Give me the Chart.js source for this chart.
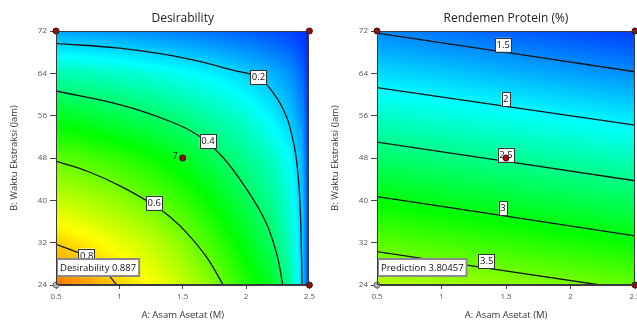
<!DOCTYPE html>
<html><head><meta charset="utf-8">
<script src="https://cdn.jsdelivr.net/npm/chart.js@4.4.1/dist/chart.umd.min.js"></script>
<style>
html,body{margin:0;padding:0;background:#fff;overflow:hidden;width:637px;height:323px;position:relative}
.wrap{position:absolute;top:0;height:323px}
canvas{display:block}
</style></head><body>
<div class="wrap" style="left:0;width:318px"><canvas id="c1" width="318" height="323"></canvas></div>
<div class="wrap" style="left:321px;width:340px"><canvas id="c2" width="340" height="323"></canvas></div>
<script>
// ---------- data ----------
const titles = ['Desirability', 'Rendemen Protein (%)'];
const xTitle = 'A: Asam Asetat (M)';
const yTitle = 'B: Waktu Ekstraksi (Jam)';
const xRange = [0.5, 2.5];
const yRange = [24, 72];
const yStep = 8;
const xStep = 0.5;

// Desirability surface sampled on a grid (columns = A, rows = B)
const desGridX = [0.5, 0.75, 1.0, 1.25, 1.5, 1.75, 2.0, 2.2, 2.35, 2.45, 2.5];
const desGridY = [24, 32, 40, 48, 56, 64, 72];
const desirabilityGrid = [
  [0.887, 0.845, 0.797, 0.750, 0.695, 0.625, 0.530, 0.470, 0.340, 0.190, 0.00],
  [0.797, 0.765, 0.730, 0.690, 0.630, 0.555, 0.480, 0.405, 0.310, 0.185, 0.00],
  [0.694, 0.670, 0.640, 0.598, 0.550, 0.490, 0.420, 0.360, 0.280, 0.180, 0.00],
  [0.590, 0.570, 0.545, 0.510, 0.470, 0.415, 0.360, 0.310, 0.250, 0.160, 0.00],
  [0.470, 0.450, 0.425, 0.400, 0.370, 0.330, 0.290, 0.235, 0.185, 0.120, 0.00],
  [0.326, 0.315, 0.300, 0.280, 0.258, 0.232, 0.198, 0.165, 0.130, 0.080, 0.00],
  [0.148, 0.140, 0.130, 0.118, 0.103, 0.088, 0.070, 0.055, 0.040, 0.020, 0.00]
];
// Rendemen Protein surface
const protGridX = [0.5, 1.0, 1.5, 2.0, 2.5];
const protGridY = [24, 32, 40, 48, 56, 64, 72];
const proteinGrid = [
  [3.80, 3.71, 3.63, 3.54, 3.45],
  [3.41, 3.32, 3.24, 3.15, 3.06],
  [3.03, 2.94, 2.85, 2.76, 2.67],
  [2.64, 2.55, 2.46, 2.38, 2.29],
  [2.25, 2.16, 2.08, 1.99, 1.90],
  [1.86, 1.78, 1.69, 1.60, 1.51],
  [1.48, 1.39, 1.30, 1.21, 1.13]
];

// Contour lines [A, B]
const des02 = [[0.5,69.67],[1.017,68.7],[1.534,66.8],[1.895,64.6],[2.097,63.2],[2.23,59.8],[2.32,55.8],[2.36,52.5],[2.39,49.0],[2.41,45.0],[2.425,40.0],[2.435,33.0],[2.442,24]];
const des04 = [[0.5,60.66],[1.017,58.0],[1.404,54.9],[1.62,52.3],[1.818,48.1],[1.999,42.3],[2.154,36.0],[2.244,29.7],[2.29,24]];
const des06 = [[0.5,47.4],[0.758,45.4],[1.017,42.6],[1.275,39.06],[1.404,36.8],[1.534,33.8],[1.689,29.25],[1.82,24]];
const des08 = [[0.5,31.7],[0.733,29.5],[0.86,27.3],[0.98,24]];
const prot15 = [[0.5,71.6],[2.5,64.3]];
const prot20 = [[0.5,61.3],[2.5,54.2]];
const prot25 = [[0.5,51.0],[2.5,43.7]];
const prot30 = [[0.5,40.7],[2.5,33.3]];
const prot35 = [[0.5,30.3],[2.23,24]];

// contour labels
const desLabelText = ['0.2', '0.4', '0.6', '0.8'];
const desLabelX = [2.098, 1.70, 1.275, 0.742];
const desLabelY = [63.27, 51.18, 39.53, 29.57];
const protLabelText = ['1.5', '2', '2.5', '3', '3.5'];
const protLabelX = [1.479, 1.498, 1.50, 1.477, 1.35];
const protLabelY = [69.4, 59.15, 48.6, 38.5, 28.5];

// design points
const designPoints = [[1.5,48],[0.5,72],[2.5,72],[2.5,24]];
const flagPoint = [0.5, 24];
const centerReplicates = '7';
const desFlag = 'Desirability 0.887';
const protFlag = 'Prediction 3.80457';

// ---------- rendering ----------
const FONT = "'Open Sans','Noto Sans',sans-serif";
const jet = [[0,30,255],[0,255,255],[0,255,0],[255,255,0],[255,0,0]];
function colorFor(v, lo, hi){
  let t = (v - lo) / (hi - lo); t = Math.max(0, Math.min(1, t));
  const s = t * 4; const i = Math.min(3, Math.floor(s)); const f = s - i;
  const a = jet[i], b = jet[i+1];
  return [a[0]+(b[0]-a[0])*f, a[1]+(b[1]-a[1])*f, a[2]+(b[2]-a[2])*f];
}
function findIdx(arr, v){
  if (v <= arr[0]) return [0, 0];
  for (let i = 0; i < arr.length - 1; i++) {
    if (v <= arr[i+1]) return [i, (v - arr[i]) / (arr[i+1] - arr[i])];
  }
  return [arr.length - 2, 1];
}
function bilinear(xs, ys, g, x, y){
  const [i, fx] = findIdx(xs, x); const [j, fy] = findIdx(ys, y);
  const v00 = g[j][i], v10 = g[j][i+1], v01 = g[j+1][i], v11 = g[j+1][i+1];
  return (v00*(1-fx) + v10*fx)*(1-fy) + (v01*(1-fx) + v11*fx)*fy;
}
function makeHeatmap(xs, ys, grid, lo, hi){
  return {
    id: 'heatmap',
    beforeDatasetsDraw(chart){
      const {ctx, chartArea: a, scales} = chart;
      const w = Math.round(a.right - a.left), h = Math.round(a.bottom - a.top);
      const off = document.createElement('canvas'); off.width = w; off.height = h;
      const octx = off.getContext('2d'); const img = octx.createImageData(w, h);
      for (let j = 0; j < h; j++) {
        const yv = scales.y.getValueForPixel(a.top + j + 0.5);
        for (let i = 0; i < w; i++) {
          const xv = scales.x.getValueForPixel(a.left + i + 0.5);
          const c = colorFor(bilinear(xs, ys, grid, xv, yv), lo, hi);
          const k = (j * w + i) * 4;
          img.data[k] = c[0]; img.data[k+1] = c[1]; img.data[k+2] = c[2]; img.data[k+3] = 255;
        }
      }
      octx.putImageData(img, 0, 0);
      ctx.drawImage(off, a.left, a.top);
    }
  };
}
function makeAnnotations(title, labText, labX, labY, flagText, showReps){
  return {
    id: 'annot',
    beforeDatasetDraw(chart, args){
      if (args.index !== 0) return;
      const {ctx, scales: {x, y}} = chart;
      ctx.save();
      ctx.font = "9.5px " + FONT; ctx.textAlign = 'center'; ctx.textBaseline = 'middle';
      for (let i = 0; i < labText.length; i++) {
        const px = x.getPixelForValue(labX[i]), py = y.getPixelForValue(labY[i]);
        const w = ctx.measureText(labText[i]).width + 3, h = 14;
        ctx.fillStyle = '#fff'; ctx.fillRect(px - w/2, py - h/2, w, h);
        ctx.strokeStyle = '#333'; ctx.lineWidth = 1;
        ctx.strokeRect(Math.round(px - w/2) + 0.5, Math.round(py - h/2) + 0.5, Math.round(w), h);
        ctx.fillStyle = '#111'; ctx.fillText(labText[i], px, py + 0.5);
      }
      const fx = x.getPixelForValue(flagPoint[0]), fy = y.getPixelForValue(flagPoint[1]);
      ctx.font = "9.5px " + FONT; ctx.textAlign = 'left';
      const fw = ctx.measureText(flagText).width + 6, fh = 17;
      const bx = Math.round(fx) + 1, by = Math.round(fy) - 9 - fh;
      ctx.fillStyle = '#fff'; ctx.fillRect(bx, by, fw, fh);
      ctx.strokeStyle = '#8a8a8a'; ctx.lineWidth = 2; ctx.strokeRect(bx, by, fw, fh);
      ctx.fillStyle = '#111'; ctx.fillText(flagText, bx + 3, by + fh/2 + 0.5);
      if (showReps) {
        const cx = x.getPixelForValue(designPoints[0][0]), cy = y.getPixelForValue(designPoints[0][1]);
        ctx.font = "9px " + FONT; ctx.textAlign = 'right'; ctx.fillStyle = '#222';
        ctx.fillText(centerReplicates, cx - 5, cy - 2);
      }
      ctx.restore();
    },
    afterDraw(chart){
      const {ctx, chartArea: a} = chart;
      ctx.save();
      ctx.strokeStyle = '#3a3a3a'; ctx.lineWidth = 1;
      ctx.strokeRect(Math.round(a.left) + 0.5, Math.round(a.top) + 0.5, Math.round(a.right - a.left) - 1, Math.round(a.bottom - a.top) - 1);
      ctx.font = "12px " + FONT; ctx.fillStyle = '#222'; ctx.textAlign = 'center'; ctx.textBaseline = 'middle';
      ctx.fillText(title, (a.left + a.right) / 2, 19);
      ctx.restore();
    }
  };
}
function toPts(arr){ return arr.map(p => ({x: p[0], y: p[1]})); }
function lineDs(arr){
  return { data: toPts(arr), showLine: true, pointRadius: 0, borderColor: '#151515', borderWidth: 1.3, tension: 0.4, fill: false };
}
function buildChart(canvasId, padRight, contours, heat, annot){
  const datasets = [
    { data: toPts(designPoints), pointRadius: 3, pointBackgroundColor: '#9b0f0f', pointBorderColor: '#4a0000', pointBorderWidth: 1, clip: false },
    { data: toPts([flagPoint]), pointRadius: 3, pointBackgroundColor: '#b5b5b5', pointBorderColor: '#666', pointBorderWidth: 1, clip: false }
  ].concat(contours.map(lineDs));
  return new Chart(document.getElementById(canvasId), {
    type: 'scatter',
    data: { datasets },
    options: {
      responsive: false, animation: false,
      layout: { padding: { left: 0, top: 31, right: padRight, bottom: 0 } },
      plugins: { legend: { display: false }, tooltip: { enabled: false }, title: { display: false } },
      scales: {
        x: {
          type: 'linear', min: xRange[0], max: xRange[1],
          ticks: { stepSize: xStep, color: '#555', font: { size: 8, family: FONT }, padding: 3, maxRotation: 0,
                   callback: (v) => String(Math.round(v * 100) / 100) },
          grid: { drawOnChartArea: false, drawTicks: true, tickLength: 4, tickColor: '#444' },
          border: { display: true, color: '#3a3a3a' },
          title: { display: true, text: xTitle, color: '#333', font: { size: 9.5, family: FONT }, padding: { top: 0, bottom: 2 } },
          afterFit(s){ s.height = 38; }
        },
        y: {
          type: 'linear', min: yRange[0], max: yRange[1],
          ticks: { stepSize: yStep, color: '#555', font: { size: 8, family: FONT }, padding: 3 },
          grid: { drawOnChartArea: false, drawTicks: true, tickLength: 6, tickColor: '#444' },
          border: { display: true, color: '#3a3a3a' },
          title: { display: true, text: yTitle, color: '#333', font: { size: 9.5, family: FONT }, padding: { top: 9, bottom: 0 } },
          afterFit(s){ s.width = 56; }
        }
      }
    },
    plugins: [heat, annot]
  });
}
buildChart('c1', 4, [des02, des04, des06, des08],
  makeHeatmap(desGridX, desGridY, desirabilityGrid, 0, 1),
  makeAnnotations(titles[0], desLabelText, desLabelX, desLabelY, desFlag, true));
buildChart('c2', 26, [prot15, prot20, prot25, prot30, prot35],
  makeHeatmap(protGridX, protGridY, proteinGrid, 1.0, 5.1),
  makeAnnotations(titles[1], protLabelText, protLabelX, protLabelY, protFlag, false));
</script>
</body></html>
